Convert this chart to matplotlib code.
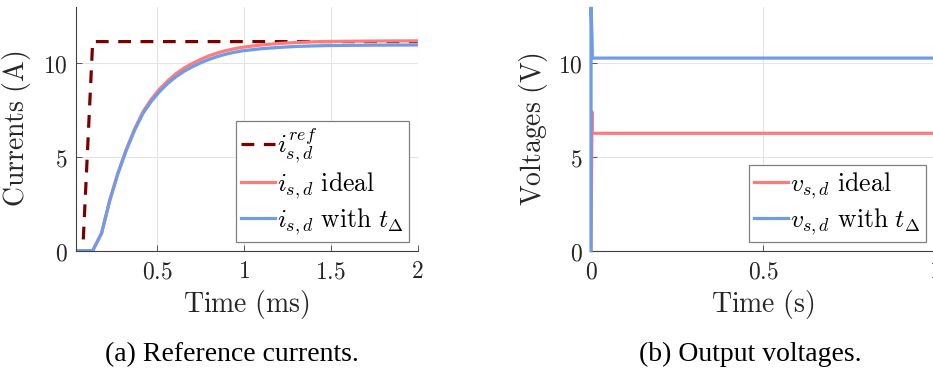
import numpy as np
import matplotlib
matplotlib.use("Agg")
import matplotlib.pyplot as plt

plt.rcParams['mathtext.fontset'] = 'cm'

# (a) currents, time in ms
t_ms = [0.034, 0.13, 0.181, 0.229, 0.276, 0.324, 0.372, 0.42, 0.467, 0.515,
        0.563, 0.611, 0.658, 0.706, 0.754, 0.802, 0.85, 0.897, 0.945, 0.993,
        1.1, 1.2, 1.3, 1.4, 1.5, 1.75, 2.0]
i_ideal = [0, 0, 0.93, 2.72, 4.17, 5.42, 6.51, 7.42, 8.07, 8.62,
           9.07, 9.45, 9.75, 10.00, 10.21, 10.40, 10.55, 10.67, 10.77, 10.85,
           10.97, 11.05, 11.10, 11.14, 11.16, 11.18, 11.19]
i_dead = [0, 0, 0.93, 2.70, 4.13, 5.37, 6.44, 7.33, 7.96, 8.49,
          8.93, 9.29, 9.58, 9.82, 10.03, 10.21, 10.36, 10.48, 10.58, 10.66,
          10.77, 10.84, 10.89, 10.92, 10.94, 10.96, 10.97]
t_ref = [0.076, 0.13, 2.0]
i_ref = [0.6, 11.15, 11.15]

# (b) voltages, time in s
t_s_ideal = [0, 0.003, 0.004, 1.0]
v_ideal = [0, 7.4, 6.26, 6.26]
t_s_dead = [0, 0, 0.003, 0.004, 1.0]
v_dead = [0, 13, 11.4, 10.27, 10.27]

red = '#ff7b7b'
blue = '#6f9be8'
dark_red = '#7a0000'
axis_col = '#404040'
text_col = '#262626'

fig = plt.figure(figsize=(9.33, 3.74), dpi=100)
ax1 = fig.add_axes([76 / 933, 1 - 250.7 / 374, 341.7 / 933, 243.8 / 374])
ax2 = fig.add_axes([591 / 933, 1 - 250.7 / 374, 344 / 933, 243.8 / 374])


def style(ax):
    ax.set_ylim(0, 13)
    ax.set_yticks([0, 5, 10])
    ax.set_yticklabels([r'$0$', r'$5$', r'$10$'])
    ax.grid(True, color='#e4e4e4', linewidth=0.8)
    ax.set_axisbelow(True)
    for s in ['top', 'right']:
        ax.spines[s].set_visible(False)
    for s in ['left', 'bottom']:
        ax.spines[s].set_color(axis_col)
        ax.spines[s].set_linewidth(0.8)
    ax.tick_params(direction='in', length=4, width=0.6, colors=axis_col,
                   labelcolor=text_col, labelsize=17, pad=6)


def add_legend(ax, anchor):
    leg = ax.legend(loc='lower right', bbox_to_anchor=anchor,
                    borderaxespad=0, fontsize=18.5, handlelength=1.3,
                    handletextpad=0.1, labelspacing=0.2, borderpad=0.2,
                    fancybox=False, framealpha=1, edgecolor='#808080')
    leg.get_frame().set_linewidth(0.9)
    leg.set_zorder(5)


lw = 2.3
ax1.plot(t_ref, i_ref, color=dark_red, lw=lw, dashes=(4, 3),
         label=r'$i_{s,d}^{ref}$')
ax1.plot(t_ms, i_ideal, color=red, lw=lw, label=r'$i_{s,d}\ \mathrm{ideal}$')
ax1.plot(t_ms, i_dead, color=blue, lw=lw,
         label=r'$i_{s,d}\ \mathrm{with}\ t_\Delta$')
style(ax1)
ax1.set_xlim(0.034, 2)
ax1.set_xticks([0.5, 1, 1.5, 2])
ax1.set_xticklabels([r'$0.5$', r'$1$', r'$1.5$', r'$2$'])
ax1.set_xlabel(r'$\mathrm{Time\ (ms)}$', fontsize=20, color=text_col)
ax1.set_ylabel(r'$\mathrm{Currents\ (A)}$', fontsize=20, color=text_col)
ax1.xaxis.set_label_coords(0.497, -0.155)
ax1.yaxis.set_label_coords(-0.126, 0.5)
add_legend(ax1, (0.975, 0.036))

ax2.plot(t_s_ideal, v_ideal, color=red, lw=lw,
         label=r'$v_{s,d}\ \mathrm{ideal}$')
ax2.plot(t_s_dead, v_dead, color=blue, lw=lw, clip_on=False, zorder=3,
         solid_joinstyle='miter',
         label=r'$v_{s,d}\ \mathrm{with}\ t_\Delta$')
style(ax2)
ax2.set_xlim(0, 1)
ax2.set_xticks([0, 0.5, 1])
ax2.set_xticklabels([r'$0$', r'$0.5$', r'$1$'])
ax2.set_xlabel(r'$\mathrm{Time\ (s)}$', fontsize=20, color=text_col)
ax2.set_ylabel(r'$\mathrm{Voltages\ (V)}$', fontsize=20, color=text_col)
ax2.xaxis.set_label_coords(0.4985, -0.155)
ax2.yaxis.set_label_coords(-0.119, 0.5)
add_legend(ax2, (0.973, 0.034))

cap = dict(fontsize=20, family='Liberation Serif', ha='center',
           va='baseline')
fig.text(232 / 933, 1 - 361 / 374, '(a) Reference currents.', **cap)
fig.text(750 / 933, 1 - 361 / 374, '(b) Output voltages.', **cap)

fig.savefig('out.png', dpi=100)
